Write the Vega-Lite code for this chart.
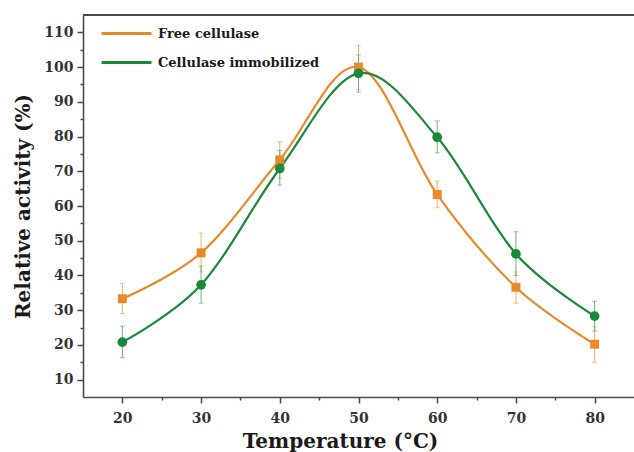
{
  "$schema": "https://vega.github.io/schema/vega-lite/v6.json",
  "width": 551,
  "height": 382,
  "autosize": {"type": "none"},
  "padding": {"left": 83, "top": 15, "right": 0, "bottom": 55},
  "background": "#ffffff",
  "config": {
    "view": {"stroke": null},
    "axis": {
      "grid": false,
      "domainColor": "#4a4a4a",
      "domainWidth": 1.6,
      "tickColor": "#4a4a4a",
      "tickWidth": 1.5,
      "labelFont": "DejaVu Serif",
      "labelFontWeight": "bold",
      "labelFontSize": 14,
      "labelColor": "#333333",
      "labelOverlap": false,
      "titleFont": "DejaVu Serif",
      "titleFontWeight": "bold",
      "titleFontSize": 20,
      "titleColor": "#1a1a1a"
    }
  },
  "data": {
    "values": [
      {"t": 20, "series": "Free cellulase", "v": 33.3, "lo": 29.0, "hi": 37.7},
      {"t": 30, "series": "Free cellulase", "v": 46.5, "lo": 41.0, "hi": 52.2},
      {"t": 40, "series": "Free cellulase", "v": 73.3, "lo": 68.0, "hi": 78.5},
      {"t": 50, "series": "Free cellulase", "v": 100.0, "lo": 93.5, "hi": 106.3},
      {"t": 60, "series": "Free cellulase", "v": 63.3, "lo": 59.5, "hi": 67.2},
      {"t": 70, "series": "Free cellulase", "v": 36.6, "lo": 32.0, "hi": 41.0},
      {"t": 80, "series": "Free cellulase", "v": 20.2, "lo": 15.0, "hi": 25.2},
      {"t": 20, "series": "Cellulase immobilized", "v": 20.8, "lo": 16.3, "hi": 25.4},
      {"t": 30, "series": "Cellulase immobilized", "v": 37.3, "lo": 32.0, "hi": 42.7},
      {"t": 40, "series": "Cellulase immobilized", "v": 70.8, "lo": 66.0, "hi": 76.0},
      {"t": 50, "series": "Cellulase immobilized", "v": 98.2, "lo": 92.8, "hi": 103.5},
      {"t": 60, "series": "Cellulase immobilized", "v": 79.8, "lo": 75.3, "hi": 84.5},
      {"t": 70, "series": "Cellulase immobilized", "v": 46.2, "lo": 40.0, "hi": 52.6},
      {"t": 80, "series": "Cellulase immobilized", "v": 28.3, "lo": 24.0, "hi": 32.6}
    ]
  },
  "layer": [
    {
      "mark": {"type": "rule", "color": "#4a4a4a", "strokeWidth": 1.6},
      "encoding": {"y": {"datum": 115, "type": "quantitative"}}
    },
    {
      "transform": [{"filter": "datum.series === 'Free cellulase'"}],
      "layer": [
        {
          "mark": {"type": "rule", "strokeWidth": 1, "color": "#f0ae6a"},
          "encoding": {
            "x": {"field": "t", "type": "quantitative"},
            "y": {"field": "lo", "type": "quantitative"},
            "y2": {"field": "hi"}
          }
        },
        {
          "mark": {"type": "tick", "orient": "horizontal", "size": 5, "thickness": 1, "color": "#f0ae6a"},
          "encoding": {
            "x": {"field": "t", "type": "quantitative"},
            "y": {"field": "hi", "type": "quantitative"}
          }
        },
        {
          "mark": {"type": "tick", "orient": "horizontal", "size": 5, "thickness": 1, "color": "#f0ae6a"},
          "encoding": {
            "x": {"field": "t", "type": "quantitative"},
            "y": {"field": "lo", "type": "quantitative"}
          }
        }
      ]
    },
    {
      "transform": [{"filter": "datum.series === 'Cellulase immobilized'"}],
      "layer": [
        {
          "mark": {"type": "rule", "strokeWidth": 1, "color": "#6aaf7c"},
          "encoding": {
            "x": {"field": "t", "type": "quantitative"},
            "y": {"field": "lo", "type": "quantitative"},
            "y2": {"field": "hi"}
          }
        },
        {
          "mark": {"type": "tick", "orient": "horizontal", "size": 5, "thickness": 1, "color": "#6aaf7c"},
          "encoding": {
            "x": {"field": "t", "type": "quantitative"},
            "y": {"field": "hi", "type": "quantitative"}
          }
        },
        {
          "mark": {"type": "tick", "orient": "horizontal", "size": 5, "thickness": 1, "color": "#6aaf7c"},
          "encoding": {
            "x": {"field": "t", "type": "quantitative"},
            "y": {"field": "lo", "type": "quantitative"}
          }
        }
      ]
    },
    {
      "mark": {"type": "line", "interpolate": "cardinal", "strokeWidth": 2.2},
      "encoding": {
        "x": {"field": "t", "type": "quantitative",
          "scale": {"domain": [15, 85], "nice": false, "zero": false},
          "axis": {
            "values": [20, 25, 30, 35, 40, 45, 50, 55, 60, 65, 70, 75, 80],
            "tickCount": 40,
            "labelExpr": "datum.value % 10 === 0 ? datum.label : ''",
            "tickSize": {"condition": {"test": "datum.value % 10 === 0", "value": 6}, "value": 3},
            "labelPadding": 8,
            "labelOverlap": false,
            "title": "Temperature (°C)",
            "titleX": 257,
            "titlePadding": 6
          }
        },
        "y": {"field": "v", "type": "quantitative",
          "scale": {"domain": [5, 115], "nice": false, "zero": false},
          "axis": {
            "values": [10, 15, 20, 25, 30, 35, 40, 45, 50, 55, 60, 65, 70, 75, 80, 85, 90, 95, 100, 105, 110],
            "tickCount": 40,
            "labelExpr": "datum.value % 10 === 0 ? datum.label : ''",
            "tickSize": {"condition": {"test": "datum.value % 10 === 0", "value": 6}, "value": 3},
            "labelPadding": 4,
            "labelOverlap": false,
            "title": "Relative activity (%)",
            "titlePadding": 10
          }
        },
        "color": {"field": "series", "type": "nominal",
          "scale": {"domain": ["Free cellulase", "Cellulase immobilized"], "range": ["#e8892a", "#1a8a3a"]},
          "legend": {
            "title": null,
            "orient": "none",
            "legendX": 32,
            "legendY": 7,
            "padding": 0,
            "symbolType": "M-2.5,0H2.5",
            "symbolSize": 400,
            "symbolStrokeWidth": 3,
            "symbolOpacity": 1,
            "rowPadding": 10,
            "labelOffset": 20,
            "labelLimit": 400,
            "labelFont": "DejaVu Serif",
            "labelFontWeight": "bold",
            "labelFontSize": 13,
            "labelColor": "#1a1a1a"
          }
        }
      }
    },
    {
      "transform": [{"filter": "datum.series === 'Free cellulase'"}],
      "mark": {"type": "square", "opacity": 1, "size": 80},
      "encoding": {
        "x": {"field": "t", "type": "quantitative"},
        "y": {"field": "v", "type": "quantitative"},
        "color": {"field": "series", "type": "nominal"}
      }
    },
    {
      "transform": [{"filter": "datum.series === 'Cellulase immobilized'"}],
      "mark": {"type": "circle", "opacity": 1, "size": 95},
      "encoding": {
        "x": {"field": "t", "type": "quantitative"},
        "y": {"field": "v", "type": "quantitative"},
        "color": {"field": "series", "type": "nominal"}
      }
    }
  ]
}
